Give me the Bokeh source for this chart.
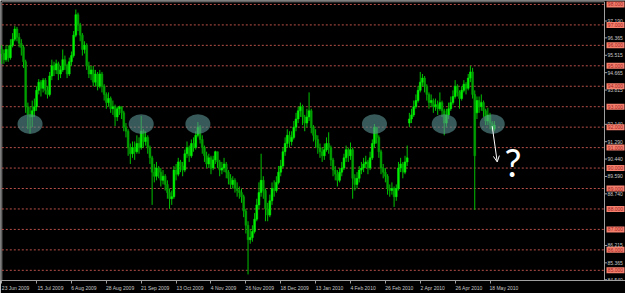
from bokeh.plotting import figure
from bokeh.models import (FixedTicker, CustomJSTickFormatter, Arrow, OpenHead, Range1d,
                          ColumnDataSource)
from bokeh.core.properties import value
from bokeh.embed import file_html
from bokeh.resources import INLINE

# ---------------- data (daily candles) ----------------
opens = [95.8, 95.6, 95.3, 95.8, 95.4, 96.0, 96.3, 96.8, 96.4, 96.1, 95.9,
         95.2, 93.0, 92.6, 92.5, 92.8, 93.0, 93.8, 94.2, 93.9, 94.3, 93.8,
         93.6, 94.5, 95.0, 94.8, 95.1, 94.6, 94.8, 95.3, 95.0, 94.6, 95.2,
         95.5, 96.5, 97.5, 97.0, 96.5, 95.8, 96.0, 95.0, 94.6, 94.8, 94.2,
         94.6, 94.0, 94.6, 94.0, 93.6, 93.2, 93.4, 92.9, 93.0, 92.5, 92.9,
         93.0, 92.7, 92.0, 91.8, 91.0, 90.7, 91.0, 90.8, 91.2, 91.0, 91.8,
         91.3, 91.5, 91.0, 90.5, 89.8, 89.6, 90.0, 89.8, 89.4, 89.6, 89.2,
         88.8, 88.5, 88.6, 89.9, 89.7, 90.3, 90.1, 89.9, 90.7, 91.0, 90.6,
         91.2, 91.0, 91.6, 92.0, 91.4, 91.0, 90.6, 90.2, 90.5, 90.0, 90.4,
         90.8, 90.3, 89.9, 90.0, 90.2, 89.8, 89.5, 89.2, 89.4, 89.0, 88.9,
         88.8, 88.6, 87.9, 87.2, 86.5, 86.6, 86.9, 87.5, 88.2, 88.8, 89.4,
         88.9, 88.0, 87.7, 88.4, 89.0, 88.9, 89.3, 89.8, 90.1, 90.8, 91.2,
         91.6, 91.3, 91.5, 92.0, 92.4, 92.8, 93.0, 92.5, 92.2, 92.5, 92.8,
         92.0, 91.6, 91.4, 91.0, 90.8, 90.6, 90.9, 91.2, 91.0, 90.4, 89.9,
         89.7, 89.4, 89.8, 90.0, 90.5, 90.9, 90.6, 90.9, 89.5, 89.2, 89.5,
         89.9, 90.0, 90.2, 90.3, 90.0, 90.5, 91.2, 92.0, 91.5, 90.8, 90.0,
         89.8, 89.6, 89.0, 88.9, 89.0, 88.6, 89.0, 90.0, 90.2, 89.8, 90.3,
         92.2, 92.4, 92.6, 93.0, 93.3, 93.8, 94.2, 94.4, 94.0, 93.6, 93.2,
         93.3, 93.0, 93.1, 92.9, 93.2, 92.8, 92.2, 92.6, 92.9, 93.2, 93.5,
         94.0, 93.7, 93.4, 93.8, 94.1, 93.9, 94.4, 94.7, 93.6, 92.7, 93.3,
         93.0, 93.2, 92.8, 92.3, 92.6, 92.2, 91.9]
highs = [96.0, 95.8, 96.0, 96.0, 96.3, 96.6, 96.95, 96.9, 96.6, 96.3, 96.0,
         95.3, 93.2, 93.0, 93.3, 93.4, 94.0, 94.35, 94.3, 94.4, 94.4, 94.0,
         94.7, 95.3, 95.2, 95.3, 95.2, 95.0, 95.8, 95.5, 95.1, 95.4, 95.7,
         96.7, 97.75, 97.6, 97.1, 96.6, 96.2, 96.1, 95.2, 95.0, 95.0, 94.8,
         94.7, 94.8, 94.7, 94.1, 93.7, 93.7, 93.5, 93.3, 93.1, 93.0, 93.05,
         93.0, 92.8, 92.2, 91.9, 91.2, 91.3, 91.3, 91.6, 91.5, 92.55, 91.9,
         91.8, 91.6, 91.1, 90.6, 90.2, 90.3, 90.1, 90.0, 89.9, 89.7, 89.4,
         89.0, 88.9, 90.1, 90.2, 90.5, 90.4, 90.3, 90.9, 91.3, 91.1, 91.4,
         91.5, 91.8, 92.25, 92.1, 91.6, 91.1, 90.8, 90.7, 90.6, 90.6, 90.85,
         90.8, 90.4, 90.3, 90.5, 90.3, 89.9, 89.7, 89.6, 89.5, 89.3, 89.1,
         89.0, 88.7, 88.0, 87.4, 87.0, 87.2, 87.8, 88.5, 89.3, 90.7, 89.6,
         89.0, 88.3, 88.7, 89.3, 89.4, 89.6, 90.1, 90.4, 91.0, 91.5, 91.9,
         91.8, 91.8, 92.3, 92.7, 93.0, 93.2, 93.1, 92.6, 92.9, 93.7, 92.9,
         92.1, 91.9, 91.6, 91.2, 91.0, 91.2, 91.5, 91.75, 91.1, 90.5, 90.1,
         89.9, 90.0, 90.3, 90.7, 91.1, 91.0, 91.25, 91.0, 89.7, 89.8, 90.1,
         90.3, 90.5, 90.6, 90.4, 90.8, 91.4, 92.15, 92.0, 91.6, 90.9, 90.2,
         90.0, 89.7, 89.2, 89.3, 89.1, 89.2, 90.3, 90.5, 90.3, 90.6, 91.1,
         92.7, 92.9, 93.3, 93.6, 94.0, 94.7, 94.6, 94.5, 94.1, 93.7, 93.6,
         93.4, 93.4, 93.3, 93.7, 93.3, 92.9, 92.9, 93.2, 93.5, 93.8, 94.3,
         94.1, 93.8, 94.0, 94.3, 94.2, 94.6, 95.0, 94.9, 93.8, 93.5, 93.5,
         93.6, 93.3, 92.9, 92.95, 92.7, 92.3, 92.3]
lows = [95.1, 95.1, 95.2, 95.2, 95.3, 95.9, 96.2, 96.2, 95.9, 95.5, 94.9,
        92.7, 91.9, 91.7, 92.0, 92.5, 92.8, 93.6, 93.5, 93.7, 93.6, 93.4,
        93.5, 94.3, 94.5, 94.6, 94.3, 94.4, 94.7, 94.8, 94.4, 94.5, 95.0,
        95.4, 96.4, 96.7, 96.2, 95.5, 95.6, 94.8, 94.4, 94.3, 94.0, 94.0,
        93.8, 93.9, 93.7, 93.3, 92.9, 93.0, 92.7, 92.6, 92.05, 92.3, 92.6,
        92.4, 91.8, 91.5, 90.6, 90.2, 90.5, 90.4, 90.7, 90.7, 90.9, 91.0,
        91.1, 90.7, 90.2, 88.2, 89.3, 89.4, 89.5, 89.1, 89.2, 88.9, 88.5,
        88.0, 88.2, 88.5, 89.4, 89.6, 89.8, 89.6, 89.8, 90.5, 90.3, 90.5,
        90.8, 90.9, 91.5, 91.2, 90.7, 90.3, 90.0, 90.0, 89.7, 89.9, 90.2,
        90.0, 89.6, 89.7, 89.8, 89.5, 89.2, 89.0, 89.0, 88.8, 88.6, 88.5,
        88.3, 87.6, 86.8, 84.8, 86.3, 86.4, 86.8, 87.4, 88.0, 88.6, 88.5,
        87.4, 87.4, 87.6, 88.2, 88.6, 88.8, 89.2, 89.6, 90.0, 90.6, 91.0,
        91.0, 91.1, 91.4, 91.8, 92.2, 92.5, 92.1, 91.8, 92.0, 92.3, 91.7,
        91.3, 91.0, 90.7, 90.5, 90.3, 90.4, 90.8, 90.7, 90.1, 89.6, 89.4,
        89.1, 89.3, 89.6, 89.9, 90.3, 90.3, 90.4, 88.5, 88.9, 89.0, 89.3,
        89.7, 89.8, 90.0, 89.7, 89.9, 90.4, 91.0, 91.2, 90.5, 89.7, 89.5,
        89.3, 88.7, 88.6, 88.7, 88.1, 88.4, 88.9, 89.8, 89.5, 89.7, 90.1,
        92.0, 92.2, 92.5, 92.9, 93.2, 93.7, 94.0, 93.7, 93.3, 92.9, 93.0,
        92.7, 92.8, 92.6, 92.8, 92.5, 91.6, 92.0, 92.4, 92.8, 93.1, 93.4,
        93.5, 92.9, 93.3, 93.7, 93.6, 93.8, 94.2, 93.4, 87.95, 92.4, 92.7,
        92.8, 92.5, 92.1, 92.1, 91.9, 91.8, 91.8]
closes = [95.6, 95.3, 95.8, 95.4, 96.0, 96.3, 96.8, 96.4, 96.1, 95.9, 95.2,
          93.0, 92.6, 92.5, 92.8, 93.0, 93.8, 94.2, 93.9, 94.3, 93.8, 93.6,
          94.5, 95.0, 94.8, 95.1, 94.6, 94.8, 95.3, 95.0, 94.6, 95.2, 95.5,
          96.5, 97.5, 97.0, 96.5, 95.8, 96.0, 95.0, 94.6, 94.8, 94.2, 94.6,
          94.0, 94.6, 94.0, 93.6, 93.2, 93.4, 92.9, 93.0, 92.5, 92.9, 93.0,
          92.7, 92.0, 91.8, 91.0, 90.7, 91.0, 90.8, 91.2, 91.0, 91.8, 91.3,
          91.5, 91.0, 90.5, 89.8, 89.6, 90.0, 89.8, 89.4, 89.6, 89.2, 88.8,
          88.5, 88.6, 89.9, 89.7, 90.3, 90.1, 89.9, 90.7, 91.0, 90.6, 91.2,
          91.0, 91.6, 92.0, 91.4, 91.0, 90.6, 90.2, 90.5, 90.0, 90.4, 90.8,
          90.3, 89.9, 90.0, 90.2, 89.8, 89.5, 89.2, 89.4, 89.0, 88.9, 88.8,
          88.6, 87.9, 87.2, 86.5, 86.6, 86.9, 87.5, 88.2, 88.8, 89.4, 88.9,
          88.0, 87.7, 88.4, 89.0, 88.9, 89.3, 89.8, 90.1, 90.8, 91.2, 91.6,
          91.3, 91.5, 92.0, 92.4, 92.8, 93.0, 92.5, 92.2, 92.5, 92.8, 92.0,
          91.6, 91.4, 91.0, 90.8, 90.6, 90.9, 91.2, 91.0, 90.4, 89.9, 89.7,
          89.4, 89.8, 90.0, 90.5, 90.9, 90.6, 90.9, 89.5, 89.2, 89.5, 89.9,
          90.0, 90.2, 90.3, 90.0, 90.5, 91.2, 92.0, 91.5, 90.8, 90.0, 89.8,
          89.6, 89.0, 88.9, 89.0, 88.6, 89.0, 90.0, 90.2, 89.8, 90.3, 90.5,
          92.4, 92.6, 93.0, 93.3, 93.8, 94.2, 94.4, 94.0, 93.6, 93.2, 93.3,
          93.0, 93.1, 92.9, 93.2, 92.8, 92.2, 92.6, 92.9, 93.2, 93.5, 94.0,
          93.7, 93.4, 93.8, 94.1, 93.9, 94.4, 94.7, 93.6, 90.6, 93.3, 93.0,
          93.2, 92.8, 92.3, 92.6, 92.2, 91.9, 92.1]

date_labels = ["23 Jun 2009", "15 Jul 2009", "6 Aug 2009", "28 Aug 2009", "21 Sep 2009",
               "13 Oct 2009", "4 Nov 2009", "26 Nov 2009", "18 Dec 2009", "13 Jan 2010",
               "4 Feb 2010", "26 Feb 2010", "2 Apr 2010", "26 Apr 2010", "18 May 2010"]
date_label_bars = [0, 16, 32, 48, 64, 80, 96, 112, 128, 144, 160, 176, 192, 208, 224]

level_prices = [98, 97, 96, 95, 94, 93, 92, 91, 90, 89, 88, 87, 86, 85]
scale_prices = [97.19, 96.365, 95.515, 94.665, 93.815, 92.14, 91.29, 90.44, 89.59,
                88.74, 86.215, 85.365, 84.54]

support_level = 92.15
touch_bars = [13, 64, 90, 171, 203, 225]
arrow_target_price = 90.3

# ---------------- geometry ----------------
n = len(closes)
idx = list(range(n))
W, H = 625, 293
PX_PER_BAR = 2.18          # horizontal bar spacing in pixels
BAR0_PX = 1.2              # pixel column of bar 0
PX_PER_UNIT = 20.67        # vertical pixels per 1.000 of price
P98_PX = 4.0               # pixel row of the 98.000 level
BOTTOM_BORDER = 10
FRAME_BOTTOM_PX = H - BOTTOM_BORDER


def xd(px):
    return (px - BAR0_PX) / PX_PER_BAR


def yd(py):
    return 98.0 - (py - P98_PX) / PX_PER_UNIT


x0, x1 = xd(0), xd(W)
y0, y1 = yd(FRAME_BOTTOM_PX), yd(0)
AXIS_X = xd(604)     # price-scale line
LEFT_X = xd(1.3)
TOP_Y = yd(1.3)

p = figure(width=W, height=H, output_backend="svg", toolbar_location=None,
           x_range=Range1d(x0, x1), y_range=Range1d(y0, y1),
           y_axis_location=None, x_axis_location="below",
           min_border_left=0, min_border_top=0, min_border_right=0,
           min_border_bottom=BOTTOM_BORDER,
           background_fill_color="#000000", border_fill_color="#000000")
p.outline_line_color = None
p.grid.visible = False

# ---------- bottom date scale ----------
def text_width_px(s, size=5.0):
    w = 0.0
    for ch in s:
        if ch.isdigit():
            w += 0.556
        elif ch == " ":
            w += 0.278
        elif ch.isupper():
            w += 0.68
        else:
            w += 0.50
    return w * size


label_centres = [b + text_width_px(s) / 2.0 / PX_PER_BAR for b, s in zip(date_label_bars, date_labels)]
xa = p.xaxis[0]
xa.ticker = FixedTicker(ticks=label_centres, minor_ticks=date_label_bars)
xa.formatter = CustomJSTickFormatter(args=dict(cs=label_centres, labels=date_labels), code="""
    let best = 0, bd = 1e9;
    for (let i = 0; i < cs.length; i++) { const d = Math.abs(cs[i] - tick); if (d < bd) { bd = d; best = i; } }
    return labels[best];
""")
xa.axis_line_color = "#a0a0a0"
xa.major_tick_out = 0
xa.major_tick_in = 0
xa.major_tick_line_color = None
xa.minor_tick_line_color = "#a0a0a0"
xa.minor_tick_out = 3
xa.minor_tick_in = 0
xa.major_label_standoff = 1
xa.major_label_text_color = "#c8c8c8"
xa.major_label_text_font = "Liberation Sans"
xa.major_label_text_font_size = "5px"

# ---------- chart borders and dotted level lines ----------
p.segment(x0=[LEFT_X, LEFT_X], y0=[y0, TOP_Y], x1=[LEFT_X, AXIS_X], y1=[TOP_Y, TOP_Y],
          line_color="#8c8c8c", line_width=1)
p.segment(x0=[LEFT_X] * len(level_prices), y0=level_prices,
          x1=[AXIS_X] * len(level_prices), y1=level_prices,
          line_color="#b8504a", line_width=1, line_dash="2 2")

# ---------- candles ----------
body_top = [max(o, c) for o, c in zip(opens, closes)]
body_bot = [min(o, c) for o, c in zip(opens, closes)]
colors = ["#00f000" if c >= o else "#00a000" for o, c in zip(opens, closes)]
src = ColumnDataSource(dict(x=idx, o=opens, h=highs, l=lows, c=closes,
                            top=body_top, bot=body_bot, col=colors))
p.segment(x0="x", y0="l", x1="x", y1="h", source=src, line_color="#00c000", line_width=1)
p.vbar(x="x", width=0.85, top="top", bottom="bot", source=src,
       fill_color="col", line_color="col", line_width=0.5)

# ---------- ellipses at touches of the support level ----------
p.ellipse(x=touch_bars, y=[support_level] * len(touch_bars), width=11.5, height=0.97,
          fill_color="#5a9090", fill_alpha=0.62, line_color=None)

# ---------- arrow and question mark ----------
last = touch_bars[-1]
p.add_layout(Arrow(end=OpenHead(size=6, line_color="white", line_width=1),
                   x_start=last, y_start=support_level - 0.1,
                   x_end=last + 2.3, y_end=arrow_target_price,
                   line_color="white", line_width=1))
p.text(x=[last + 9.5], y=[90.3], text=["?"], text_font=value("Lato"),
       text_font_size="38px", text_color="white", text_align="center",
       text_baseline="alphabetic")

# ---------- right price scale (MT4 style) ----------
p.segment(x0=[AXIS_X], y0=[y0], x1=[AXIS_X], y1=[TOP_Y], line_color="#a0a0a0", line_width=1)
p.segment(x0=[AXIS_X] * len(scale_prices), y0=scale_prices,
          x1=[xd(606.5)] * len(scale_prices), y1=scale_prices,
          line_color="#a0a0a0", line_width=1)
p.text(x=[xd(607)] * len(scale_prices), y=scale_prices,
       text=["%.3f" % v for v in scale_prices],
       text_font=value("Liberation Sans"), text_font_size="5px", text_color="#c8c8c8",
       text_align="left", text_baseline="middle")
p.rect(x=[xd(615)] * len(level_prices), y=level_prices, width=18, height=6,
       width_units="screen", height_units="screen",
       fill_color="#f4806e", line_color=None)
p.text(x=[xd(615)] * len(level_prices), y=level_prices,
       text=["%.3f" % v for v in level_prices],
       text_font=value("Liberation Sans"), text_font_size="5px", text_color="#a02020",
       text_align="center", text_baseline="middle")

open("out.html", "w").write(file_html(p, INLINE))
